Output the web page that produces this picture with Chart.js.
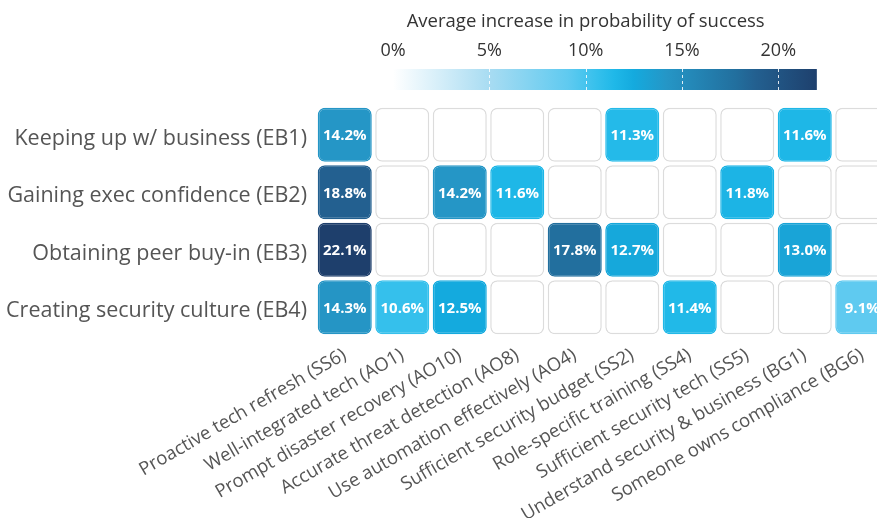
<!DOCTYPE html>
<html>
<head>
<meta charset="utf-8">
<script src="https://cdn.jsdelivr.net/npm/chart.js@4.4.1/dist/chart.umd.min.js"></script>
<style>
  html, body { margin: 0; padding: 0; background: #fff; overflow: hidden; }
  #wrap { width: 877px; height: 518px; overflow: hidden; }
</style>
</head>
<body>
<div id="wrap"><canvas id="heat" width="895" height="560"></canvas></div>
<script>
// Rows (enablers) and columns (practices)
const rowLabels = [
    'Keeping up w/ business (EB1)',
    'Gaining exec confidence (EB2)',
    'Obtaining peer buy-in (EB3)',
    'Creating security culture (EB4)'
];
const colLabels = [
    'Proactive tech refresh (SS6)',
    'Well-integrated tech (AO1)',
    'Prompt disaster recovery (AO10)',
    'Accurate threat detection (AO8)',
    'Use automation effectively (AO4)',
    'Sufficient security budget (SS2)',
    'Role-specific training (SS4)',
    'Sufficient security tech (SS5)',
    'Understand security & business (BG1)',
    'Someone owns compliance (BG6)'
];

// Average increase in probability of success (%), null = not significant
const eb1 = [14.2, null, null, null, null, 11.3, null, null, 11.6, null];
const eb2 = [18.8, null, 14.2, 11.6, null, null, null, 11.8, null, null];
const eb3 = [22.1, null, null, null, 17.8, 12.7, null, null, 13.0, null];
const eb4 = [14.3, 10.6, 12.5, null, null, null, 11.4, null, null, 9.1];
const rowValues = [eb1, eb2, eb3, eb4];

// Colour scale legend
const scaleTicks = [0, 5, 10, 15, 20];
const scaleMax = 22;
const scaleTitle = 'Average increase in probability of success';

const colorStops = [
    [0, [255, 255, 255]],
    [5, [168, 220, 242]],
    [9.1, [95, 202, 240]],
    [10.6, [53, 192, 236]],
    [11.5, [31, 184, 232]],
    [12.5, [20, 170, 222]],
    [14.2, [37, 150, 198]],
    [17.8, [34, 111, 158]],
    [18.8, [35, 96, 144]],
    [22.1, [30, 63, 108]]
];

function colorFor(v) {
    if (v == null) return '#ffffff';
    let a = colorStops[0], b = colorStops[colorStops.length - 1];
    for (let i = 0; i < colorStops.length - 1; i++) {
        if (v >= colorStops[i][0] && v <= colorStops[i + 1][0]) {
            a = colorStops[i]; b = colorStops[i + 1];
            break;
        }
    }
    const t = b[0] === a[0] ? 0 : Math.min(1, Math.max(0, (v - a[0]) / (b[0] - a[0])));
    const c = a[1].map((x, k) => Math.round(x + (b[1][k] - x) * t));
    return 'rgb(' + c.join(',') + ')';
}

const FONT = "'Open Sans', 'Liberation Sans', sans-serif";
const GAP = 0.03;

const datasets = rowValues.map((vals, r) => ({
    label: rowLabels[r],
    xAxisID: 'x',
    yAxisID: 'y',
    grouped: false,
    data: colLabels.map((c, i) => ({ x: c, y: [r + GAP, r + 1 - GAP], v: vals[i] })),
    backgroundColor: ctx => colorFor(ctx.raw ? ctx.raw.v : null),
    borderColor: ctx => (ctx.raw && ctx.raw.v != null) ? colorFor(ctx.raw.v) : '#dcdcdc',
    borderWidth: 1.5,
    borderRadius: 7,
    borderSkipped: false,
    barPercentage: 0.94,
    categoryPercentage: 1
}));

// Draws value labels in cells, plus the colour bar and its title
const heatPlugin = {
    id: 'heatPlugin',
    afterDatasetsDraw(chart) {
        const ctx = chart.ctx;
        ctx.save();
        ctx.font = 'bold 15px ' + FONT;
        ctx.fillStyle = '#ffffff';
        ctx.textAlign = 'center';
        ctx.textBaseline = 'middle';
        chart.data.datasets.forEach((ds, di) => {
            const meta = chart.getDatasetMeta(di);
            meta.data.forEach((bar, i) => {
                const v = ds.data[i].v;
                if (v == null) return;
                ctx.fillText(v.toFixed(1) + '%', bar.x, (bar.y + bar.base) / 2 + 1);
            });
        });
        ctx.restore();
    },
    afterDraw(chart) {
        const ctx = chart.ctx;
        const sc = chart.scales.c;
        const x0 = sc.getPixelForValue(0);
        const x1 = sc.getPixelForValue(scaleMax);
        const top = chart.chartArea.top - 37;
        const h = 21;
        ctx.save();
        const grad = ctx.createLinearGradient(x0, 0, x1, 0);
        colorStops.forEach(s => {
            if (s[0] <= scaleMax) grad.addColorStop(s[0] / scaleMax, colorFor(s[0]));
        });
        grad.addColorStop(1, colorFor(scaleMax));
        ctx.fillStyle = grad;
        ctx.fillRect(x0, top, x1 - x0, h);
        ctx.strokeStyle = 'rgba(255,255,255,0.85)';
        ctx.lineWidth = 1;
        ctx.setLineDash([3, 3]);
        scaleTicks.slice(1).forEach(t => {
            const px = Math.round(sc.getPixelForValue(t)) + 0.5;
            ctx.beginPath();
            ctx.moveTo(px, top);
            ctx.lineTo(px, top + h);
            ctx.stroke();
        });
        ctx.setLineDash([]);
        ctx.fillStyle = '#333333';
        ctx.font = '18.5px ' + FONT;
        ctx.textAlign = 'center';
        ctx.textBaseline = 'middle';
        const mid = (sc.getPixelForValue(scaleTicks[0]) + sc.getPixelForValue(scaleTicks[scaleTicks.length - 1])) / 2;
        ctx.fillText(scaleTitle, mid, 22);
        ctx.restore();
    }
};

new Chart(document.getElementById('heat'), {
    type: 'bar',
    data: { labels: colLabels, datasets: datasets },
    plugins: [heatPlugin],
    options: {
        responsive: false,
        animation: false,
        layout: { padding: { left: 0, right: 4, top: 0, bottom: 0 } },
        plugins: {
            legend: { display: false },
            tooltip: { enabled: false }
        },
        scales: {
            x: {
                type: 'category',
                position: 'bottom',
                offset: true,
                grid: { display: false, drawTicks: false },
                border: { display: false },
                ticks: {
                    autoSkip: false,
                    minRotation: 30,
                    maxRotation: 30,
                    padding: 8,
                    color: '#555555',
                    font: { family: FONT, size: 18.5 }
                },
                afterFit: s => { s.height = 224; }
            },
            c: {
                type: 'linear',
                axis: 'x',
                position: 'top',
                offset: false,
                min: -4,
                max: 25.85,
                grid: { display: false, drawTicks: false, offset: false },
                border: { display: false },
                afterBuildTicks: s => { s.ticks = scaleTicks.map(v => ({ value: v })); },
                ticks: {
                    padding: 44,
                    color: '#333333',
                    font: { family: FONT, size: 18 },
                    callback: v => v + '%'
                },
                afterFit: s => { s.height = 106; }
            },
            y: {
                type: 'linear',
                min: 0,
                max: 4,
                reverse: true,
                grid: { display: false, drawTicks: false },
                border: { display: false },
                afterBuildTicks: s => { s.ticks = rowLabels.map((l, i) => ({ value: i + 0.5 })); },
                ticks: {
                    padding: 9,
                    labelOffset: 4,
                    color: '#555555',
                    font: { family: FONT, size: 21.5 },
                    callback: v => rowLabels[Math.floor(v)]
                },
                afterFit: s => { s.width = 316; }
            }
        }
    }
});
</script>
</body>
</html>
